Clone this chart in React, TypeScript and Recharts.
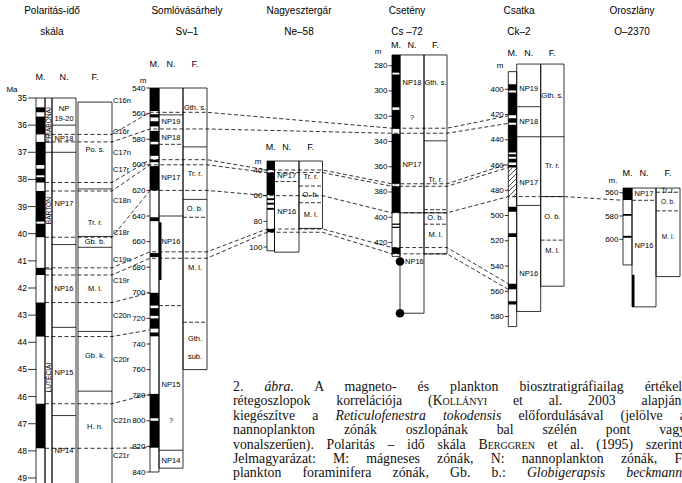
import { ComposedChart, XAxis, YAxis, ReferenceArea, ReferenceLine, Line, Scatter } from 'recharts'

const W = 682
const H = 483
const SANS = '"Liberation Sans", Arial, sans-serif'

// Polaritás-idő skála (Ma), normál polaritású kronok (Berggren et al. 1995)
const polTicks = [35, 36, 37, 38, 39, 40, 41, 42, 43, 44, 45, 46, 47, 48, 49]
const polSpan = [[35, 49.3], [35, 49.3], [35.15, 49.3]]
const polNormal = [[35.343, 35.526], [35.685, 36.341], [36.618, 37.473], [37.604, 37.848], [37.92, 38.113], [38.426, 39.552], [39.631, 40.13], [41.257, 41.521], [42.536, 43.789], [46.264, 47.906]]
const polStages = [['PRIABONAI', 35, 37], ['BARTON', 37, 41.3], ['LUTÉCIAI', 41.3, 49.3]]
const polNannoBounds = [[36, 's'], [37, 's'], [40.4, 's'], [43.45, 's'], [46.7, 's']]
const polNannoLabels = [['NP', 35.4], ['19-20', 35.75], ['NP18', 36.5], ['NP17', 38.9], ['NP16', 42], ['NP15', 45.1], ['NP14', 48]]
const polForamBounds = [[38.35, 's'], [40.1, 's'], [40.5, 's'], [43.6, 's'], [45.8, 's']]
const polForamLabels = [['Po. s.', 36.9], ['Tr. r.', 39.6], ['Gb. b.', 40.3], ['M. l.', 42], ['Gb. k.', 44.5], ['H. n.', 47.1]]

// Somlóvásárhely Sv-1 (m)
const svTicks = [540, 560, 580, 600, 620, 640, 660, 680, 700, 720, 740, 760, 780, 800, 820, 840]
const svSpan = [[540, 840], [540, 837], [540, 760]]
const svNormal = [[540, 558], [560.5, 563], [566, 570], [573.5, 582], [584, 593], [596, 598], [601, 620], [641, 644], [669, 672], [700, 710], [712, 718], [720, 728], [731, 734], [779, 798], [800, 821]]
const svNannoBounds = [[561, 's'], [584, 'd'], [640, 's'], [710, 'd'], [823, 's']]
const svNannoLabels = [['NP19', 566], ['NP18', 579], ['NP17', 610], ['NP16', 660], ['NP15', 772], ['?', 800], ['NP14', 831]]
const svForamBounds = [[586, 's'], [627, 's'], [641, 'd'], [723, 'd']]
const svForamLabels = [['Gth. s.', 555], ['Tr. r.', 607], ['O. b.', 634], ['M. l.', 680], ['Gth.', 736], ['sub.', 750]]
const svChrons = [['C16n', 549.5], ['C16r', 573.6], ['C17n', 590], ['C17r', 604], ['C18n', 627.5], ['C18r', 653], ['C19n', 674], ['C19r', 690], ['C20n', 718], ['C20r', 752], ['C21n', 800], ['C21r', 827]]
const svTokodensis = [[645, 690]]

// Nagyesztergár Ne-58 (m)
const neTicks = [40, 60, 80, 100]
const neSpan = [[33, 103], [33, 104], [33, 85.5]]
const neNormal = [[33, 40], [42, 59.5], [62, 63.5], [65.5, 67], [69.5, 71], [86, 88.5]]
const neNannoBounds = [[49, 'd']]
const neNannoLabels = [['NP17', 44.5], ['NP16', 72]]
const neForamBounds = [[52.5, 'd'], [65.5, 'd']]
const neForamLabels = [['Tr. r.', 45], ['O. b.', 59], ['M. l.', 74.5]]

// Csetény Cs-72 (m)
const csTicks = [280, 300, 320, 340, 360, 380, 400, 420]
const csSpan = [[271.5, 431], [271.5, 476], [271.5, 429]]
const csNormal = [[271.5, 285.5], [287, 313], [315, 330], [334, 373.5], [375.5, 396.5], [405, 406], [407.5, 408.5], [424, 429]]
const csNannoBounds = [[396.5, 's']]
const csNannoLabels = [['NP18', 293.5], ['?', 321], ['NP17', 358], ['NP16', 435, 'dot']]
const csForamBounds = [[339.5, 's'], [394, 'd'], [396.5, 's'], [405.5, 'd']]
const csForamLabels = [['Gth. s.', 293.5], ['Tr. r.', 370], ['O. b.', 400], ['M. l.', 413.5]]
const csTokodensisDots = [435, 476]

// Csatka Ck-2 (m)
const ckTicks = [400, 420, 440, 460, 480, 500, 520, 540, 560, 580]
const ckSpan = [[386, 588], [380, 576], [380, 556]]
const ckNormal = [[396, 401], [402.5, 420.5], [423, 426.5], [428, 450], [451.5, 453.5], [455, 458], [460, 462], [493, 497], [514, 517], [554, 558.5], [568, 570.5]]
const ckUncertain = [[462, 485.5]]
const ckNannoBounds = [[413.8, 's'], [437.6, 's'], [492, 's']]
const ckNannoLabels = [['NP19', 399], ['NP18', 425.5], ['NP17', 474], ['NP16', 546]]
const ckForamBounds = [[437.6, 's'], [485, 's'], [519.5, 'd']]
const ckForamLabels = [['Gth. s.', 405], ['Tr. r.', 460], ['O. b.', 501], ['M. l.', 528]]

// Oroszlány O-2370 (m)
const oTicks = [560, 580, 600]
const oSpan = [[556, 622], [556, 658], [556, 632]]
const oNormal = [[556, 566.3], [578.3, 579.8], [597, 598.7]]
const oNannoBounds = [[566.5, 'd']]
const oNannoLabels = [['NP17', 561], ['NP16', 605]]
const oForamBounds = [[559.6, 'd'], [575.6, 'd']]
const oForamLabels = [['Tr. r.', 557.8], ['O. b.', 567.5], ['M. l.', 598]]
const oTokodensis = [[630.5, 658]]

// korrelációs vonalak: P, Sv, Ne, Cs, Ck, O
const corrOrder = ['P', 'Sv', 'Ne', 'Cs', 'Ck', 'O']
const corrLines = [
  [36.341, 559, null, 329.5, 421, null],
  [36.618, 572, null, 333.5, 427, null],
  [38.113, 596, 40, 373.5, 459, null],
  [38.426, 600, 42, 375.5, 462, null],
  [40.13, 620, 60, 396.5, 485, 566.5],
  [41.257, 668, 86, 424, 554, null],
  [41.521, 673, 88.5, 429, 558.5, null],
  [42.536, 700, null, null, null, null],
  [43.789, 729, null, null, null, null],
  [46.264, 779, null, null, null, null],
  [47.906, 821, null, null, null, null],
]

const titles = [['Polaritás-idő', 'skála'], ['Somlóvásárhely', 'Sv–1'], ['Nagyesztergár', 'Ne–58'], ['Csetény', 'Cs –72'], ['Csatka', 'Ck–2'], ['Oroszlány', 'O–2370']]

const caption = [
  [['2. '], ['ábra.', 'i'], [' A magneto- és plankton biosztratigráfiailag értékelt']],
  [['rétegoszlopok korrelációja ('], ['Kollányi', 'sc'], [' et al. 2003 alapján)']],
  [['kiegészítve a '], ['Reticulofenestra tokodensis', 'i'], [' előfordulásával (jelölve a']],
  [['nannoplankton zónák oszlopának bal szélén pont vagy']],
  [['vonalszerűen). Polaritás – idő skála '], ['Berggren', 'sc'], [' et al. (1995) szerint.']],
  [['Jelmagyarázat: M: mágneses zónák, N: nannoplankton zónák, F:']],
  [['plankton foraminifera zónák, Gb. b.: '], ['Globigerapsis beckmanni', 'i']],
]

// placement of the columns on the page
const layout = {
  P: { m: [36, 45], s: [45, 52], n: [52, 76], f: [78, 112], cal: [35, 98, 49, 478], tick: 8, head: 77, unit: ['Ma', 12, 89], tx: 52, fs: 7.5 },
  Sv: { m: [150, 159], n: [159, 183], f: [183, 207], cal: [540, 88, 840, 472], tick: 3.5, head: 64, unit: ['m', 143, 80], tx: 187, fs: 7.5, chronX: 113 },
  Ne: { m: [267, 274.5], n: [274.5, 299], f: [299, 322.5], cal: [40, 170, 100, 247], tick: 3.5, head: 147, unit: ['m', 258, 161], tx: 299, fs: 7.5 },
  Cs: { m: [392, 400], n: [400, 424], f: [424, 447], cal: [280, 65.7, 420, 242.5], tick: 3.5, head: 45, unit: ['m', 378, 51], tx: 407, fs: 7.5 },
  Ck: { m: [508.3, 516.7], n: [516.7, 540.7], f: [540.7, 564], cal: [400, 89.3, 580, 316.5], tick: 3.5, head: 53, unit: ['m', 500, 65], tx: 519, fs: 7.5 },
  O: { m: [623, 632], n: [632, 656], f: [656, 680], cal: [560, 192.7, 600, 239.3], tick: 3.5, head: 173, unit: ['m.', 613, 180], tx: 632, fs: 6.5 },
}

const columns = [
  { id: 'P', span: polSpan, normal: polNormal, ticks: polTicks, nB: polNannoBounds, nL: polNannoLabels, fB: polForamBounds, fL: polForamLabels, stages: polStages },
  { id: 'Sv', span: svSpan, normal: svNormal, ticks: svTicks, nB: svNannoBounds, nL: svNannoLabels, fB: svForamBounds, fL: svForamLabels, chrons: svChrons, toko: svTokodensis },
  { id: 'Ne', span: neSpan, normal: neNormal, ticks: neTicks, nB: neNannoBounds, nL: neNannoLabels, fB: neForamBounds, fL: neForamLabels },
  { id: 'Cs', span: csSpan, normal: csNormal, ticks: csTicks, nB: csNannoBounds, nL: csNannoLabels, fB: csForamBounds, fL: csForamLabels, dots: csTokodensisDots },
  { id: 'Ck', span: ckSpan, normal: ckNormal, ticks: ckTicks, nB: ckNannoBounds, nL: ckNannoLabels, fB: ckForamBounds, fL: ckForamLabels, hatch: ckUncertain },
  { id: 'O', span: oSpan, normal: oNormal, ticks: oTicks, nB: oNannoBounds, nL: oNannoLabels, fB: oForamBounds, fL: oForamLabels, toko: oTokodensis },
]

const slope = (L) => (L.cal[3] - L.cal[1]) / (L.cal[2] - L.cal[0])
const toFrame = (L, d) => L.cal[1] + (d - L.cal[0]) * slope(L)
const domainOf = (L) => [L.cal[0] - L.cal[1] / slope(L), L.cal[0] + (H - L.cal[1]) / slope(L)]
const mid = (r) => (r[0] + r[1]) / 2

function corrPoints(row) {
  const anchors = row.map((d, i) => (d == null ? null : { L: layout[corrOrder[i]], d })).filter(Boolean)
  const pts = []
  anchors.forEach((a, i) => {
    const y = toFrame(a.L, a.d)
    pts.push({ x: i === 0 ? a.L.m[1] : a.L.m[0], y })
    if (i < anchors.length - 1) pts.push({ x: a.L.f[1], y })
  })
  return pts
}

function textSeries(key, yAxisId, data, size, rotate = false) {
  return (
    <Scatter
      key={key}
      yAxisId={yAxisId}
      data={data}
      dataKey="d"
      isAnimationActive={false}
      shape={(p) => (
        <text
          x={p.cx}
          y={p.cy}
          textAnchor={p.payload.a || 'middle'}
          dominantBaseline="central"
          fontSize={size}
          fontFamily={SANS}
          fill="#000"
          transform={rotate ? `rotate(-90 ${p.cx} ${p.cy})` : undefined}
        >
          {p.payload.t}
        </text>
      )}
    />
  )
}

function columnEls(c) {
  const { id } = c
  const L = layout[id]
  const els = []
  const k = (s) => `${id}-${s}-${els.length}`
  const box = (x, r) =>
    els.push(<ReferenceArea key={k('box')} yAxisId={id} x1={x[0]} x2={x[1]} y1={r[0]} y2={r[1]} fill="none" stroke="#000" strokeWidth={0.8} ifOverflow="visible" />)
  const fillArea = (x, r, fill) =>
    els.push(<ReferenceArea key={k('fill')} yAxisId={id} x1={x[0]} x2={x[1]} y1={r[0]} y2={r[1]} fill={fill} fillOpacity={1} stroke="none" ifOverflow="visible" />)
  const bound = (x, d, kind) =>
    els.push(
      <ReferenceLine key={k('b')} yAxisId={id} segment={[{ x: x[0], y: d }, { x: x[1], y: d }]} stroke="#000" strokeWidth={0.8} strokeDasharray={kind === 'd' ? '4 2' : undefined} ifOverflow="visible" />
    )

  box(L.m, c.span[0])
  box(L.n, c.span[1])
  box(L.f, c.span[2])
  c.normal.forEach((r) => fillArea(L.m, r, '#000'))
  ;(c.hatch || []).forEach((r) => fillArea(L.m, r, 'url(#hatch)'))
  ;(c.toko || []).forEach((r) => fillArea([L.n[0], L.n[0] + 2.5], r, '#000'))
  c.nB.forEach(([d, kind]) => bound(L.n, d, kind))
  c.fB.forEach(([d, kind]) => bound(L.f, d, kind))

  if (c.stages) {
    box(L.s, [c.span[0][0], c.span[0][1]])
    c.stages.slice(1).forEach(([, top]) => bound(L.s, top, 's'))
    els.push(textSeries(k('st'), id, c.stages.map(([t, a, b]) => ({ x: mid(L.s), d: (a + b) / 2, t })), 6.6, true))
  }

  // depth / age ticks
  els.push(
    <Scatter
      key={k('ticks')}
      yAxisId={id}
      data={c.ticks.map((d) => ({ x: L.m[0], d, t: String(d) }))}
      dataKey="d"
      isAnimationActive={false}
      shape={(p) => (
        <g>
          <line x1={p.cx - L.tick} x2={p.cx} y1={p.cy} y2={p.cy} stroke="#000" strokeWidth={0.8} />
          <text x={p.cx - L.tick - 1} y={p.cy} textAnchor="end" dominantBaseline="central" fontSize={id === 'P' ? 8.5 : 8} fontFamily={SANS} fill="#000">
            {p.payload.t}
          </text>
        </g>
      )}
    />
  )

  els.push(
    textSeries(
      k('nl'),
      id,
      c.nL.map(([t, d, where]) => (where === 'dot' ? { x: L.n[0] + 5, d, t, a: 'start' } : { x: mid(L.n), d, t })),
      7.5
    )
  )
  els.push(textSeries(k('fl'), id, c.fL.map(([t, d]) => ({ x: mid(L.f), d, t })), L.fs))
  if (c.chrons) els.push(textSeries(k('ch'), id, c.chrons.map(([t, d]) => ({ x: L.chronX, d, t, a: 'start' })), 7.5))
  if (c.dots) {
    els.push(
      <Scatter
        key={k('dots')}
        yAxisId={id}
        data={c.dots.map((d) => ({ x: L.n[0], d }))}
        dataKey="d"
        isAnimationActive={false}
        shape={(p) => <circle cx={p.cx} cy={p.cy} r={4.3} fill="#000" />}
      />
    )
  }
  return els
}

const frameText = []
corrOrder.forEach((id, i) => {
  const L = layout[id]
  frameText.push({ x: L.tx, d: 10, t: titles[i][0], s: 10 })
  frameText.push({ x: L.tx, d: 31, t: titles[i][1], s: 10 })
  frameText.push({ x: mid(L.m), d: L.head, t: 'M.', s: 9 })
  frameText.push({ x: mid(L.n), d: L.head, t: 'N.', s: 9 })
  frameText.push({ x: mid(L.f), d: L.head, t: 'F.', s: 9 })
  frameText.push({ x: L.unit[1], d: L.unit[2], t: L.unit[0], s: 8 })
})

export default function App() {
  return (
    <div style={{ position: 'relative', width: W, height: H, overflow: 'hidden', background: '#fff' }}>
      <style>{'body{margin:0;background:#fff}'}</style>
      <svg width="0" height="0" style={{ position: 'absolute' }}>
        <defs>
          <pattern id="hatch" patternUnits="userSpaceOnUse" width="5" height="5">
            <path d="M0,5 L5,0 M-1,1 L1,-1 M4,6 L6,4" stroke="#000" strokeWidth="0.7" />
          </pattern>
        </defs>
      </svg>
      <ComposedChart width={W} height={H} margin={{ top: 0, right: 0, bottom: 0, left: 0 }}>
        <XAxis type="number" dataKey="x" domain={[0, W]} hide allowDataOverflow />
        <YAxis yAxisId="f" type="number" domain={[0, H]} reversed hide allowDataOverflow />
        {corrOrder.map((id) => (
          <YAxis key={id} yAxisId={id} type="number" domain={domainOf(layout[id])} reversed hide allowDataOverflow />
        ))}
        {columns.flatMap(columnEls)}
        {corrLines.map((row, i) => (
          <Line
            key={`corr-${i}`}
            data={corrPoints(row)}
            dataKey="y"
            yAxisId="f"
            stroke="#000"
            strokeWidth={0.8}
            strokeDasharray="4 2.5"
            dot={false}
            activeDot={false}
            isAnimationActive={false}
          />
        ))}
        <Scatter
          yAxisId="f"
          data={frameText}
          dataKey="d"
          isAnimationActive={false}
          shape={(p) => (
            <text x={p.cx} y={p.cy} textAnchor="middle" dominantBaseline="central" fontSize={p.payload.s} fontFamily={SANS} fill="#000">
              {p.payload.t}
            </text>
          )}
        />
      </ComposedChart>
      <div
        style={{
          position: 'absolute',
          left: 233,
          top: 380,
          width: 453,
          fontFamily: '"Liberation Serif", "Times New Roman", serif',
          fontSize: 13.8,
          lineHeight: '14.4px',
          color: '#111',
        }}
      >
        {caption.map((line, i) => (
          <div key={i} style={{ textAlign: 'justify', textAlignLast: 'justify', height: 14.4 }}>
            {line.map(([t, st], j) => (
              <span key={j} style={{ fontStyle: st === 'i' ? 'italic' : 'normal', fontVariant: st === 'sc' ? 'small-caps' : 'normal' }}>
                {t}
              </span>
            ))}
          </div>
        ))}
      </div>
    </div>
  )
}
